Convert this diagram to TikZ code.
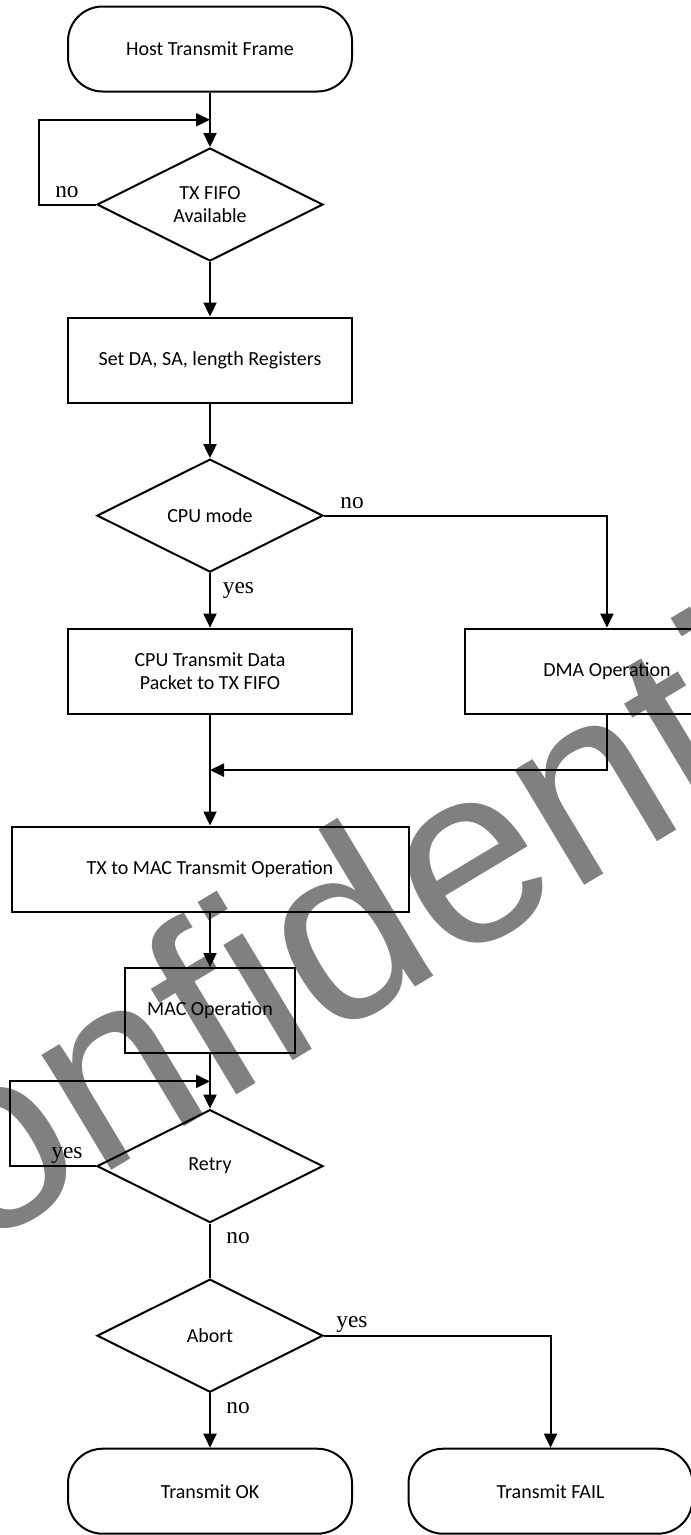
\documentclass[tikz,border=0pt]{standalone}
\usepackage{fontspec}
\setmainfont{Carlito}
\newfontfamily\answerfont{Liberation Serif}
\newfontfamily\markfont{Liberation Sans}
\usepackage{tikz}
\usetikzlibrary{positioning, calc, shapes.geometric, arrows.meta}
\tikzset{
    flowline/.style={draw=black, line width=1.5pt},
    flowarrow/.style={flowline, -{Triangle[length=10.5pt, width=9.75pt]}},
    procbox/.style={
        shape=rectangle,
        draw=black,
        line width=1.5pt,
        minimum width=#1,
        minimum height=63.75pt,
        align=center,
        font=\fontsize{15}{17.5}\selectfont
    },
    procbox/.default=213pt,
    termbox/.style={procbox, rounded corners=26pt},
    decision/.style={
        shape=diamond,
        aspect=2,
        draw=black,
        line width=1.5pt,
        minimum width=169.5pt,
        minimum height=84.75pt,
        inner sep=0pt,
        align=center,
        font=\fontsize{15}{17.5}\selectfont
    },
    answer/.style={font=\answerfont\fontsize{17.5}{20}\selectfont, inner sep=0pt, anchor=base}
}

\begin{document}
\begin{tikzpicture}[x=0.75pt, y=-0.75pt, node distance=40.9pt]

\useasboundingbox (0,0) rectangle (691,1535);
\clip (0,0) rectangle (691,1535);

% Watermark
\node[rotate=31, anchor=base west, inner sep=0pt, text=black!50, font=\markfont\fontsize{191}{191}\selectfont] (w_mark) at (-183,1347) {Confidential};

% Main column
\node[termbox] (f_host) at (210,49) {Host Transmit Frame};
\node[decision, below=of f_host] (f_fifo) {TX FIFO\\Available};
\node[procbox, below=of f_fifo] (f_setreg) {Set DA, SA, length Registers};
\node[decision, below=of f_setreg] (f_cpumode) {CPU mode};
\node[procbox, below=of f_cpumode] (f_cputx) {CPU Transmit Data\\Packet to TX FIFO};
\node[procbox, right=83.2pt of f_cputx] (f_dma) {DMA Operation};
\node[procbox=297.75pt, below=83.2pt of f_cputx] (f_mactx) {TX to MAC Transmit Operation};
\node[procbox=127.5pt, below=of f_mactx] (f_macop) {MAC Operation};
\node[decision, below=of f_macop] (f_retry) {Retry};
\node[decision, below=of f_retry] (f_abort) {Abort};
\node[termbox, below=of f_abort] (f_ok) {Transmit OK};
\node[termbox, right=of f_ok] (f_fail) {Transmit FAIL};

% Join points
\coordinate (j_fifo) at ($(f_host.south)!0.5!(f_fifo.north)$);
\coordinate (j_dma) at ($(f_cputx.south)!0.5!(f_mactx.north)$);
\coordinate (j_retry) at ($(f_macop.south)!0.5!(f_retry.north)$);

% Connectors
\draw[flowarrow] (f_host) -- (f_fifo);
\draw[flowarrow] (f_fifo.west) -- ++(-57,0) |- (j_fifo);
\draw[flowarrow] (f_fifo) -- (f_setreg);
\draw[flowarrow] (f_setreg) -- (f_cpumode);
\draw[flowarrow] (f_cpumode) -- (f_cputx);
\draw[flowarrow] (f_cpumode.east) -| (f_dma.north);
\draw[flowarrow] (f_cputx) -- (f_mactx);
\draw[flowarrow] (f_dma.south) |- (j_dma);
\draw[flowarrow] (f_mactx) -- (f_macop);
\draw[flowarrow] (f_macop) -- (f_retry);
\draw[flowarrow] (f_retry.west) -- ++(-86,0) |- (j_retry);
\draw[flowline] (f_retry) -- (f_abort);
\draw[flowarrow] (f_abort) -- (f_ok);
\draw[flowarrow] (f_abort.east) -| (f_fail.north);

% Answers
\node[answer] (a_fifo_no) at ($(f_fifo.west)+(-29,-7)$) {no};
\node[answer] (a_cpu_no) at ($(f_cpumode.east)+(28,-7)$) {no};
\node[answer] (a_cpu_yes) at ($(f_cpumode.south)+(28.5,20.5)$) {yes};
\node[answer] (a_retry_yes) at ($(f_retry.west)+(-29,-8)$) {yes};
\node[answer] (a_retry_no) at ($(f_retry.south)+(28,20)$) {no};
\node[answer] (a_abort_yes) at ($(f_abort.east)+(28,-8)$) {yes};
\node[answer] (a_abort_no) at ($(f_abort.south)+(28,20)$) {no};

\end{tikzpicture}
\end{document}
